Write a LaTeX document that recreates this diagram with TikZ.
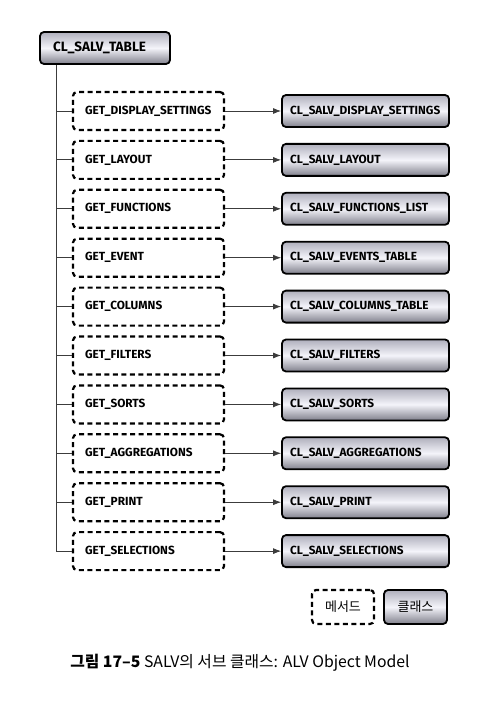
\documentclass[tikz,border=0pt]{standalone}
\usepackage{fontspec}
\setmainfont{Fira Sans}
\newfontfamily\krfont{Noto Sans CJK KR}
\usetikzlibrary{arrows.meta,positioning}
\definecolor{BoxTop}{RGB}{175,175,188}
\definecolor{BoxMid}{RGB}{244,244,250}
\definecolor{BoxBot}{RGB}{128,128,140}
\definecolor{LineGray}{RGB}{60,60,60}

\begin{document}
\begin{tikzpicture}[x=1pt,y=-1pt,>={Latex[length=8pt,width=6pt]},
    method/.style={draw,line width=2.2pt,dash pattern=on 5pt off 3.5pt,rounded corners=4pt,
      minimum height=38pt,text width=127pt,inner xsep=12pt,align=left,
      font=\bfseries\fontsize{11.8}{13}\selectfont},
    klass/.style={draw,line width=1.8pt,rounded corners=4pt,top color=BoxTop,
      bottom color=BoxBot,middle color=BoxMid,minimum height=32pt,text width=151pt,
      inner xsep=8pt,align=left,font=\bfseries\fontsize{11.8}{13}\selectfont},
    link/.style={LineGray,line width=0.8pt}]
  \useasboundingbox (0,0) rectangle (500,719);
  \node[klass,text width=104pt,inner xsep=13pt,font=\bfseries\fontsize{13.5}{15}\selectfont]
    (tbl) at (105,48) {CL\_SALV\_TABLE};
  \coordinate[xshift=17pt] (trunk) at (tbl.south west);
  \foreach \m/\c [count=\i] in {
      GET\_DISPLAY\_SETTINGS/CL\_SALV\_DISPLAY\_SETTINGS,
      GET\_LAYOUT/CL\_SALV\_LAYOUT,
      GET\_FUNCTIONS/CL\_SALV\_FUNCTIONS\_LIST,
      GET\_EVENT/CL\_SALV\_EVENTS\_TABLE,
      GET\_COLUMNS/CL\_SALV\_COLUMNS\_TABLE,
      GET\_FILTERS/CL\_SALV\_FILTERS,
      GET\_SORTS/CL\_SALV\_SORTS,
      GET\_AGGREGATIONS/CL\_SALV\_AGGREGATIONS,
      GET\_PRINT/CL\_SALV\_PRINT,
      GET\_SELECTIONS/CL\_SALV\_SELECTIONS} {
    \node[method] (m\i) at (148.5,{111+48.9*(\i-1)}) {\m};
    \node[klass,right=56pt of m\i] (c\i) {\c};
    \draw[link] (trunk) |- (m\i);
    \draw[link,->] (m\i) -- (c\i);
  }
  \node[method,text width=38pt,minimum height=34pt,align=center,
    font=\krfont\fontsize{13}{15}\selectfont] (lm) at (343,607) {메서드};
  \node[klass,text width=47pt,minimum height=34pt,align=center,
    font=\krfont\fontsize{13}{15}\selectfont] (lc) at (415.5,607) {클래스};
  \node[font=\krfont\fontsize{15.8}{18}\selectfont] (cap) at (240,663)
    {\textbf{그림 17–5} SALV의 서브 클래스: ALV Object Model};
\end{tikzpicture}
\end{document}
